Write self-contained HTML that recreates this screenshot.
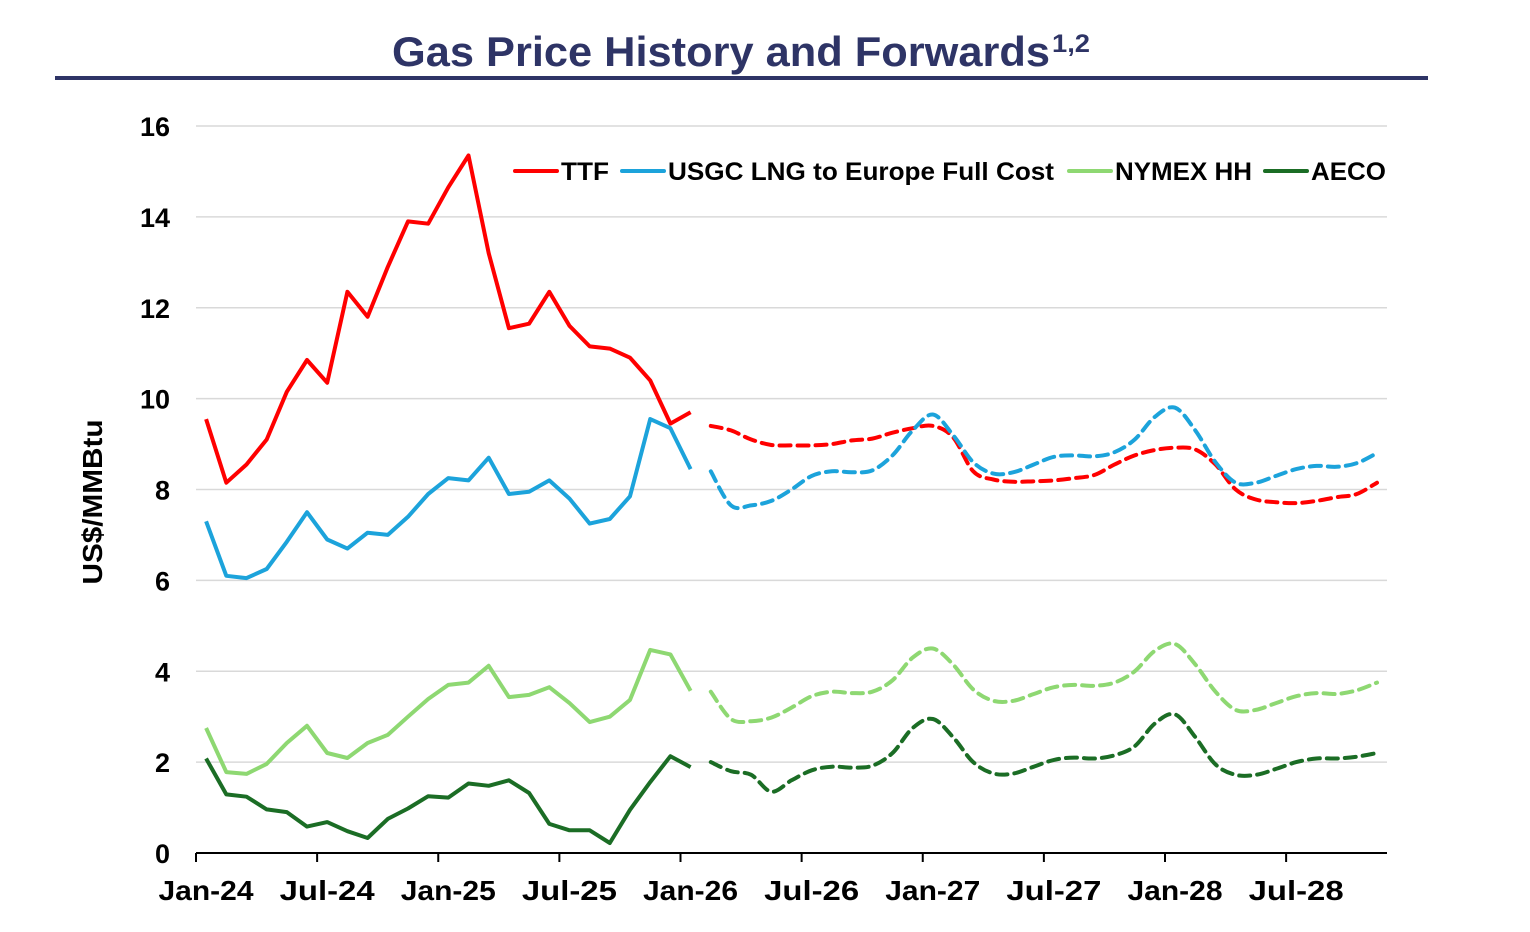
<!DOCTYPE html>
<html><head><meta charset="utf-8">
<style>
html,body{margin:0;padding:0;background:#fff;}
body{width:1530px;height:932px;position:relative;overflow:hidden;font-family:"Liberation Sans",Arial,sans-serif;}
</style></head>
<body>
<svg id="chart" width="1530" height="932" xmlns="http://www.w3.org/2000/svg" style="position:absolute;left:0;top:0">
  <text x="392" y="66" font-family="Liberation Sans, sans-serif" font-weight="bold" font-size="42" fill="#2e3466" textLength="658" lengthAdjust="spacingAndGlyphs">Gas Price History and Forwards</text>
  <text x="1052" y="52" font-family="Liberation Sans, sans-serif" font-weight="bold" font-size="25" fill="#2e3466" textLength="38" lengthAdjust="spacingAndGlyphs">1,2</text>
  <rect x="55" y="76" width="1373" height="4" fill="#2e3466"/>
  <g id="grid"></g>
  <g id="axes"></g>
  <g id="series"></g>
  <text transform="translate(102,502) rotate(-90)" text-anchor="middle" font-weight="bold" font-size="28" fill="#000" textLength="165" lengthAdjust="spacingAndGlyphs">US$/MMBtu</text>
  <g id="legend"></g>
</svg>
<script>
const yTicks = [0,2,4,6,8,10,12,14,16];
const xTickLabels = ["Jan-24","Jul-24","Jan-25","Jul-25","Jan-26","Jul-26","Jan-27","Jul-27","Jan-28","Jul-28"];
const ttfHist = [9.55,8.15,8.55,9.1,10.15,10.85,10.35,12.35,11.8,12.9,13.9,13.85,14.65,15.35,13.2,11.55,11.65,12.35,11.6,11.15,11.1,10.9,10.4,9.45,9.7];
const usgcHist = [7.3,6.1,6.05,6.25,6.85,7.5,6.9,6.7,7.05,7.0,7.4,7.9,8.25,8.2,8.7,7.9,7.95,8.2,7.8,7.25,7.35,7.85,9.55,9.35,8.45];
const nymexHist = [2.75,1.78,1.74,1.96,2.42,2.8,2.2,2.09,2.42,2.6,3.0,3.39,3.7,3.75,4.12,3.43,3.48,3.65,3.3,2.88,3.0,3.37,4.47,4.37,3.57];
const aecoHist = [2.08,1.29,1.24,0.96,0.9,0.58,0.68,0.48,0.33,0.75,0.98,1.25,1.22,1.53,1.48,1.6,1.32,0.64,0.5,0.5,0.22,0.95,1.56,2.13,1.89];
const ttfFwd = [9.4,9.3,9.1,8.98,8.97,8.97,9.0,9.08,9.12,9.25,9.35,9.4,9.15,8.4,8.22,8.17,8.18,8.2,8.25,8.32,8.55,8.75,8.87,8.92,8.88,8.55,8.0,7.78,7.72,7.7,7.75,7.83,7.9,8.15];
const usgcFwd = [8.4,7.65,7.65,7.75,8.0,8.3,8.4,8.38,8.42,8.75,9.3,9.65,9.2,8.6,8.35,8.38,8.55,8.72,8.75,8.73,8.82,9.1,9.6,9.8,9.3,8.6,8.15,8.15,8.3,8.45,8.52,8.5,8.58,8.8];
const nymexFwd = [3.55,2.95,2.9,2.98,3.2,3.45,3.55,3.52,3.55,3.8,4.3,4.5,4.15,3.6,3.35,3.35,3.5,3.65,3.7,3.68,3.75,4.0,4.45,4.6,4.15,3.55,3.15,3.15,3.3,3.45,3.52,3.5,3.58,3.75];
const aecoFwd = [2.0,1.8,1.72,1.35,1.6,1.82,1.9,1.88,1.92,2.2,2.75,2.95,2.55,2.0,1.75,1.75,1.9,2.05,2.1,2.08,2.15,2.35,2.85,3.05,2.55,1.95,1.72,1.72,1.85,2.0,2.08,2.08,2.12,2.2];

const NS="http://www.w3.org/2000/svg";
const X0=196, X1=1387, MONTH=(1165-196)/48;
const xMonth = m => X0 + MONTH*(m+0.5);
const yVal = v => 853 - v*(853-126)/16;
function mk(tag, attrs, parent){const e=document.createElementNS(NS,tag);for(const k in attrs)e.setAttribute(k,attrs[k]);parent.appendChild(e);return e;}
const grid=document.getElementById('grid'), axes=document.getElementById('axes'), ser=document.getElementById('series'), leg=document.getElementById('legend');

yTicks.forEach(v=>{
  if(v>0){const g=mk('line',{x1:X0,x2:X1,y1:yVal(v),y2:yVal(v),stroke:'#d9d9d9','stroke-width':1.5},grid);
  
  }
  const t=mk('text',{x:170,y:yVal(v)+10,'text-anchor':'end','font-weight':'bold','font-size':27,fill:'#000'},axes);
  t.textContent=v;
  
  
});
const ax=mk('line',{x1:X0,x2:X1,y1:853,y2:853,stroke:'#000','stroke-width':2},axes);


xTickLabels.forEach((lab,i)=>{
  const x=X0+MONTH*6*i;
  const tk=mk('line',{x1:x,x2:x,y1:853,y2:862,stroke:'#000','stroke-width':2},axes);
  
  
  const t=mk('text',{x:x+10,y:900,'text-anchor':'middle','font-weight':'bold','font-size':28,fill:'#000',textLength:95,lengthAdjust:'spacingAndGlyphs'},axes);
  t.textContent=lab;
  
  
});

function linePath(vals, start){return vals.map((v,i)=>(i?'L':'M')+xMonth(start+i).toFixed(1)+' '+yVal(v).toFixed(1)).join(' ');}
function smoothPath(vals, start){
  const p=vals.map((v,i)=>[xMonth(start+i),yVal(v)]);
  let d='M'+p[0][0].toFixed(1)+' '+p[0][1].toFixed(1);
  for(let i=0;i<p.length-1;i++){
    const p0=p[i-1]||p[i],p1=p[i],p2=p[i+1],p3=p[i+2]||p2;
    const c1=[p1[0]+(p2[0]-p0[0])/6,p1[1]+(p2[1]-p0[1])/6];
    const c2=[p2[0]-(p3[0]-p1[0])/6,p2[1]-(p3[1]-p1[1])/6];
    d+=' C'+c1.map(n=>n.toFixed(1)).join(' ')+' '+c2.map(n=>n.toFixed(1)).join(' ')+' '+p2[0].toFixed(1)+' '+p2[1].toFixed(1);
  }
  return d;
}
const series=[
  {name:'ttf',hist:ttfHist,fwd:ttfFwd,color:'#ff0000'},
  {name:'usgc',hist:usgcHist,fwd:usgcFwd,color:'#1ca3db'},
  {name:'nymex',hist:nymexHist,fwd:nymexFwd,color:'#8ed872'},
  {name:'aeco',hist:aecoHist,fwd:aecoFwd,color:'#1b6d25'}
];
series.forEach(s=>{
  const h=mk('path',{d:linePath(s.hist,0),fill:'none',stroke:s.color,'stroke-width':4,'stroke-linejoin':'round'},ser);
  
  
  const f=mk('path',{d:smoothPath(s.fwd,s.hist.length),fill:'none',stroke:s.color,'stroke-width':4,'stroke-dasharray':'11 7','stroke-linecap':'round'},ser);
  
  
});
const legItems=[['TTF','#ff0000',515,48],['USGC LNG to Europe Full Cost','#1ca3db',622,386],['NYMEX HH','#8ed872',1069,137],['AECO','#1b6d25',1265,75]];
legItems.forEach(([lab,col,x,w])=>{
  const l=mk('line',{x1:x,x2:x+42,y1:171,y2:171,stroke:col,'stroke-width':4,'stroke-linecap':'round'},leg);
  
  
  const t=mk('text',{x:x+46,y:180,'font-weight':'bold','font-size':25,fill:'#000',textLength:w,lengthAdjust:'spacingAndGlyphs'},leg);
  t.textContent=lab;
  
  
});
</script>
</body></html>
